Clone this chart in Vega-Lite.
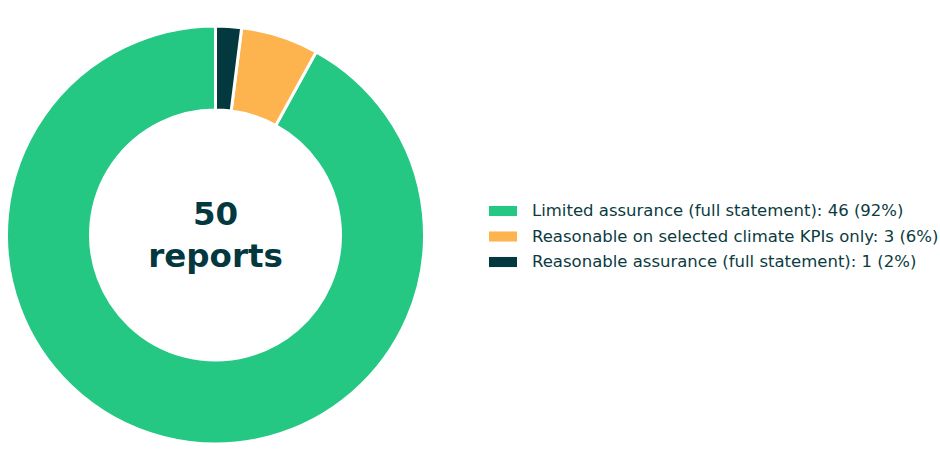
{
  "$schema": "https://vega.github.io/schema/vega-lite/v6.json",
  "width": 429,
  "height": 470,
  "padding": 0,
  "autosize": {"type": "pad"},
  "background": "white",
  "config": {"view": {"stroke": null}, "font": "DejaVu Sans"},
  "layer": [
    {
      "data": {
        "values": [
          {"category": "Limited assurance (full statement): 46 (92%)", "count": 46, "order": 3},
          {"category": "Reasonable on selected climate KPIs only: 3 (6%)", "count": 3, "order": 2},
          {"category": "Reasonable assurance (full statement): 1 (2%)", "count": 1, "order": 1}
        ]
      },
      "mark": {"type": "arc", "outerRadius": 209, "innerRadius": 125, "stroke": "white", "strokeWidth": 3},
      "encoding": {
        "theta": {"field": "count", "type": "quantitative", "stack": true},
        "order": {"field": "order", "type": "quantitative"},
        "color": {
          "field": "category",
          "type": "nominal",
          "scale": {
            "domain": [
              "Limited assurance (full statement): 46 (92%)",
              "Reasonable on selected climate KPIs only: 3 (6%)",
              "Reasonable assurance (full statement): 1 (2%)"
            ],
            "range": ["#25C882", "#FDB44E", "#03383E"]
          },
          "legend": {
            "title": null,
            "orient": "none",
            "legendX": 488,
            "legendY": 197,
            "padding": 0,
            "symbolType": "M-1,-0.36H1V0.36H-1Z",
            "symbolSize": 784,
            "symbolStrokeWidth": 0,
            "labelFont": "DejaVu Sans",
            "labelFontSize": 16.5,
            "labelColor": "#0B3B41",
            "labelOffset": 15,
            "rowPadding": 2.5,
            "labelLimit": 600
          }
        }
      }
    },
    {
      "data": {"values": [{"label": "50\nreports"}]},
      "mark": {"type": "text", "lineBreak": "\n", "fontSize": 32.5, "fontWeight": "bold", "font": "DejaVu Sans", "color": "#03383E", "lineHeight": 42, "baseline": "middle", "align": "center", "dy": -20},
      "encoding": {"text": {"field": "label", "type": "nominal"}}
    }
  ]
}
